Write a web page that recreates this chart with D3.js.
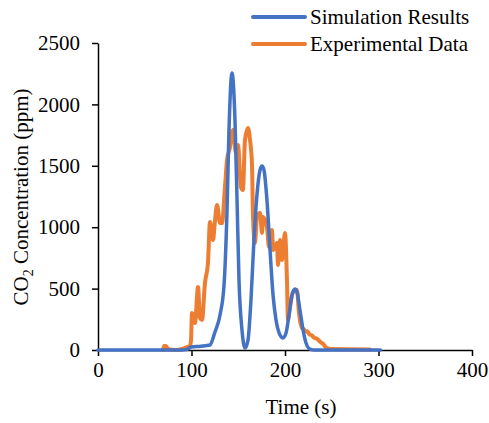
<!DOCTYPE html>
<html><head><meta charset="utf-8">
<script src="https://cdn.jsdelivr.net/npm/d3@7"></script>
<style>body{margin:0;background:#fff}svg{display:block}</style>
</head><body><svg id="c" width="489" height="423"></svg>
<script>
const seriesNames = ["Simulation Results", "Experimental Data"];
const xTicks = [0, 100, 200, 300, 400];
const yTicks = [0, 500, 1000, 1500, 2000, 2500];
// Simulation Results: [time (s), CO2 (ppm)]
const simulation = [
  [0,0],[90,0],[95,5],[100,25],[110,30],[115,35],[119.8,41],[125.1,147],[130.5,285],[134.8,530],
  [138,1140],[140.1,1792],[143.3,2255],[146.5,1873],[148.7,1221],[150.8,570],[154,163],[157.2,16],
  [160.4,81],[163.6,407],[166.8,896],[170,1262],[173.3,1466],[175.4,1498],[177.5,1466],[180.7,1221],
  [184,814],[187.2,448],[190.4,244],[194.7,122],[197.9,98],[201.1,138],[204.3,285],[207.5,448],
  [210.7,497],[212.8,472],[216,326],[219.3,163],[222.5,57],[226.7,8],[232,0],[302,0]
];
// Experimental Data: [time (s), CO2 (ppm)]
const experimental = [
  [69.5,0],[70.6,33],[72.7,33],[74.9,8],[82.4,0],[89.8,8],[95.2,24],[98.4,33],[99.5,81],[100.5,301],
  [102.7,261],[103.7,220],[107,513],[109,261],[111.2,244],[114.4,546],[117.6,708],[119.8,1042],
  [123,896],[125,1042],[127.3,1181],[130.5,1034],[132.6,1034],[135.8,1327],[138,1547],[141.2,1653],
  [144.4,1792],[147.6,1604],[149.7,1669],[152.9,1327],[155,1303],[157.2,1710],[160.4,1808],[162.6,1710],
  [164.7,1507],[165.8,1083],[167.9,871],[170,1083],[173.3,1116],[175.4,953],[176.5,1083],[180.7,1002],
  [182.9,839],[186.1,977],[187.2,814],[191.4,871],[192.5,692],[194.7,896],[196.8,733],[200,953],
  [202.1,570],[203.2,244],[205.3,350],[208.6,472],[212.8,489],[215,301],[218.2,179],[220,170],
  [222,150],[224,152],[226,128],[229,118],[231,100],[234,92],[236,78],[239,58],[241,48],[243,28],
  [246,14],[250,8],[290.9,5]
];
const colors = ["#4472C4", "#ED7D31"];

const svg = d3.select("#c");
const font = "'Liberation Serif','Times New Roman',serif";
const fs = 21;
const x = d3.scaleLinear().domain([0,400]).range([98,472]);
const y = d3.scaleLinear().domain([0,2500]).range([350,43]);

const xAxis = svg.append("g").attr("transform","translate(0,350)")
  .call(d3.axisBottom(x).tickValues(xTicks).tickFormat(d3.format("d")).tickSize(6).tickSizeOuter(0).tickPadding(6));
const yAxis = svg.append("g").attr("transform","translate(98,0)")
  .call(d3.axisLeft(y).tickValues(yTicks).tickFormat(d3.format("d")).tickSize(6).tickSizeOuter(0).tickPadding(12));
[xAxis,yAxis].forEach(g=>{
  g.attr("font-family",font).attr("font-size",fs);
  g.select(".domain").attr("stroke","#000").attr("stroke-width",1.5);
  g.selectAll(".tick line").attr("stroke","#000").attr("stroke-width",1.5);
  g.selectAll("text").attr("font-family",font).attr("font-size",fs).attr("fill","#000");
});

const line = d3.line().x(d=>x(d[0])).y(d=>y(d[1])).curve(d3.curveMonotoneX);
svg.append("path").datum(experimental).attr("d",line).attr("fill","none")
  .attr("stroke",colors[1]).attr("stroke-width",4).attr("stroke-linejoin","round").attr("stroke-linecap","round");
svg.append("path").datum(simulation).attr("d",line).attr("fill","none")
  .attr("stroke",colors[0]).attr("stroke-width",3.5).attr("stroke-linejoin","round").attr("stroke-linecap","round");

// legend
seriesNames.forEach((n,i)=>{
  const ly = 17 + i*27;
  svg.append("line").attr("x1",253).attr("x2",305).attr("y1",ly).attr("y2",ly)
    .attr("stroke",colors[i]).attr("stroke-width",4).attr("stroke-linecap","round");
  svg.append("text").attr("x",310).attr("y",ly+7).text(n)
    .attr("font-family",font).attr("font-size",fs).attr("fill","#000");
});

// axis titles
svg.append("text").attr("x",301).attr("y",414).attr("text-anchor","middle")
  .attr("font-family",font).attr("font-size",fs).text("Time (s)");
const yt = svg.append("text").attr("transform","translate(28,197) rotate(-90)").attr("text-anchor","middle")
  .attr("font-family",font).attr("font-size",fs);
yt.append("tspan").text("CO");
yt.append("tspan").attr("font-size",14).attr("dy",5).text("2");
yt.append("tspan").attr("dy",-5).text(" Concentration (ppm)");
</script></body></html>
